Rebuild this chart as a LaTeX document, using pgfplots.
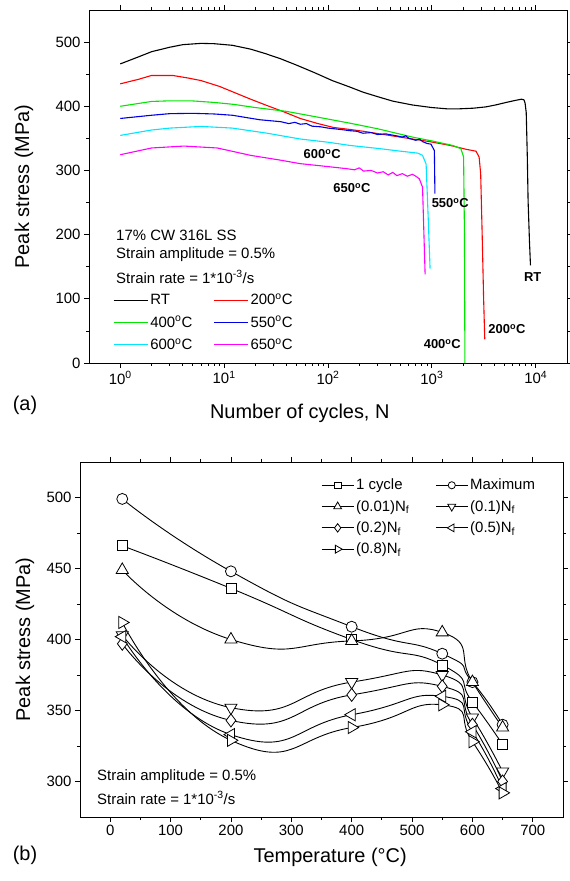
\documentclass[border=0pt]{standalone}
\usepackage{pgfplots}
\pgfplotsset{compat=1.18}
\usepackage{fontspec}
\setmainfont{Liberation Sans}

\definecolor{cRT}{RGB}{0,0,0}
\definecolor{c200}{RGB}{255,0,0}
\definecolor{c400}{RGB}{0,230,0}
\definecolor{c550}{RGB}{0,0,230}
\definecolor{c600}{RGB}{0,230,255}
\definecolor{c650}{RGB}{255,0,255}

\pgfplotsset{
  common/.style={
    scale only axis, anchor=south west,
    tick align=outside,
    major tick length=5bp, minor tick length=3bp,
    axis line style={line width=0.9bp},
    every tick/.style={black, line width=0.8bp},
    tick label style={font=\fontsize{15}{18}\selectfont},
    label style={font=\fontsize{20}{24}\selectfont},
    /pgf/number format/assume math mode=true,
  }
}

\begin{document}
\begin{tikzpicture}
\path[use as bounding box] (0,0) rectangle (570bp,881bp);

% ---------------- panel (a) ----------------
\begin{axis}[common,
  at={(89bp,518bp)}, width=478bp, height=353bp,
  xmode=log, xmin=0.5, xmax=20000, ymin=0, ymax=550,
  xtick={1,10,100,1000,10000},
  xticklabels={10\textsuperscript{0},10\textsuperscript{1},10\textsuperscript{2},10\textsuperscript{3},10\textsuperscript{4}},
  ytick={0,100,200,300,400,500}, minor y tick num=1,
  xlabel={Number of cycles, N},
  ylabel={Peak stress (MPa)},
  xlabel style={at={(axis description cs:0.441,-0.142)}, anchor=center},
  ylabel style={at={(axis description cs:-0.136,0.5)}, anchor=center},
  legend columns=2,
  legend cell align=left,
  legend style={draw=none, fill=none, inner sep=0pt, row sep=6bp,
    font=\fontsize{15}{18}\selectfont,
    at={(axis description cs:0.05,0.2015)}, anchor=north west,
    /tikz/every even column/.append style={column sep=19bp}},
  legend image code/.code={\draw[#1, line width=1.2bp] (0bp,0bp) -- (34bp,0bp);},
  every axis plot/.append style={line width=1.1bp},
]
\addplot[color=cRT] coordinates {(1,466) (1.5,477) (2,485) (3,492) (4,496) (6,498) (8,497.5) (12,495) (18,489) (25,482) (35,474) (50,464) (75,452) (110,440) (162,430) (217,422) (300,415) (420,408) (650,402) (1000,398) (1400,396) (1825,396) (2500,397) (3300,399) (4100,402) (5200,406) (6300,409) (7290,411) (7700,410) (7900,405) (8100,390) (8300,320) (8440,253) (8700,190) (8900,152)};
\addlegendentry{RT}
\addplot[color=c200] coordinates {(1,435) (1.5,442) (2,448) (3.2,448) (4.5,444) (6,440) (9,431) (12.3,422) (18,411) (26,401) (38,391) (54,381) (80,373) (113,367) (160,364) (220,361) (314,357) (450,353) (650,349) (945,345) (1500,339) (2130,333) (2660,330) (2850,321) (2950,295) (3050,200) (3150,100) (3230,37)};
\addlegendentry{200\textsuperscript{o}C}
\addplot[color=c400] coordinates {(1,400) (2,407.5) (3,408.5) (4.8,408.5) (8,406) (12.3,403) (20,398) (40,392) (80,383) (162,373.7) (300,365) (650,352) (1000,346) (1585,339) (1900,334) (2020,321) (2060,200) (2080,0)};
\addlegendentry{400\textsuperscript{o}C}
\addplot[color=c550] coordinates {(1,381) (2,386) (3,388.5) (5,389) (8,388) (12,386) (22,379) (35,376) (42,373) (48,375) (54,372) (62,373) (70,369) (85,368) (100,366) (130,364) (162,362) (190,361) (217,358) (260,359) (300,356) (360,357) (455,354) (520,352) (560,354) (600,350) (700,347) (760,349) (813,345) (900,342) (980,341) (1057,331) (1070,264)};
\addlegendentry{550\textsuperscript{o}C}
\addplot[color=c600] coordinates {(1,354.6) (2,363) (3,366) (6,368.6) (12,366) (26,358) (54,349) (100,344) (162,339) (314,334) (500,330) (731,327) (813,323.5) (880,310) (920,230) (961,147)};
\addlegendentry{600\textsuperscript{o}C}
\addplot[color=c650] coordinates {(1,324.5) (2,335) (4.1,338) (8.6,335) (18,323.5) (35,316) (54,310.6) (100,306) (151,302.8) (180,301) (200,304) (220,299) (260,300) (300,296) (340,298) (380,293) (420,297) (460,292) (520,295) (580,291) (650,294) (700,291) (757,287) (813,274) (861,138)};
\addlegendentry{650\textsuperscript{o}C}

\node[font=\fontsize{15}{18}\selectfont, anchor=west, inner sep=0pt] at (axis description cs:0.0565,0.3626) {17\% CW 316L SS};
\node[font=\fontsize{15}{18}\selectfont, anchor=west, inner sep=0pt] at (axis description cs:0.0565,0.306) {Strain amplitude = 0.5\%};
\node[font=\fontsize{15}{18}\selectfont, anchor=west, inner sep=0pt] at (axis description cs:0.0565,0.2436) {Strain rate = 1*10\textsuperscript{-3}/s};

\node[font=\bfseries\fontsize{13}{15}\selectfont] at (axis cs:88,325) {600\textsuperscript{o}C};
\node[font=\bfseries\fontsize{13}{15}\selectfont] at (axis cs:170,272) {650\textsuperscript{o}C};
\node[font=\bfseries\fontsize{13}{15}\selectfont] at (axis cs:1503,249) {550\textsuperscript{o}C};
\node[font=\bfseries\fontsize{13}{15}\selectfont] at (axis cs:1260,29.5) {400\textsuperscript{o}C};
\node[font=\bfseries\fontsize{13}{15}\selectfont] at (axis cs:5275,53) {200\textsuperscript{o}C};
\node[font=\bfseries\fontsize{13}{15}\selectfont] at (axis cs:9360,134) {RT};
\end{axis}

% ---------------- panel (b) ----------------
\begin{axis}[common,
  at={(80bp,64bp)}, width=483bp, height=355bp,
  xmin=-50, xmax=750, ymin=275, ymax=525,
  xtick={0,100,...,700}, minor x tick num=1,
  ytick={300,350,...,500}, minor y tick num=1,
  xlabel={Temperature (°C)},
  ylabel={Peak stress (MPa)},
  xlabel style={at={(axis description cs:0.518,-0.115)}, anchor=center},
  ylabel style={at={(axis description cs:-0.114,0.5)}, anchor=center},
  legend columns=2,
  legend cell align=left,
  legend style={draw=none, fill=none, inner sep=0pt, row sep=5bp,
    font=\fontsize{15}{18}\selectfont,
    at={(axis description cs:0.499,0.958)}, anchor=north west,
    /tikz/every even column/.append style={column sep=24bp}},
  legend image code/.code={\draw[mark repeat=2,mark phase=2,#1,every mark/.append style={scale=0.65}] plot coordinates {(0bp,0bp) (16bp,0bp) (32bp,0bp)};},
  every axis plot/.append style={black, line width=0.9bp, smooth, tension=1},
]
\addplot[mark=square*, mark size=5bp, mark options={fill=white, solid, line width=0.8bp}] coordinates {(20,466) (200,436) (400,400) (550,382) (600,356) (650,326)};
\addlegendentry{1 cycle}
\addplot[mark=*, mark size=5.5bp, mark options={fill=white, solid, line width=0.8bp}] coordinates {(20,499) (200,448) (400,409) (550,390) (600,370) (650,340)};
\addlegendentry{Maximum}
\addplot[mark=triangle*, mark size=7bp, mark options={fill=white, solid, line width=0.8bp}] coordinates {(20,449) (200,400) (400,399) (550,405) (600,370) (650,338)};
\addlegendentry{(0.01)N\textsubscript{f}}
\addplot[mark=triangle*, mark size=7bp, mark options={fill=white, solid, line width=0.8bp, rotate=180}] coordinates {(20,403) (200,352) (400,370) (550,375) (600,345) (650,307)};
\addlegendentry{(0.1)N\textsubscript{f}}
\addplot[mark=diamond*, mark size=6.5bp, mark options={fill=white, solid, line width=0.8bp}] coordinates {(20,397) (200,343) (400,361) (550,367) (600,340) (650,300)};
\addlegendentry{(0.2)N\textsubscript{f}}
\addplot[mark=triangle*, mark size=7bp, mark options={fill=white, solid, line width=0.8bp, rotate=90}] coordinates {(20,402) (200,333) (400,347) (550,360) (600,335) (650,295)};
\addlegendentry{(0.5)N\textsubscript{f}}
\addplot[mark=triangle*, mark size=7bp, mark options={fill=white, solid, line width=0.8bp, rotate=-90}] coordinates {(20,412) (200,329) (400,338) (550,354) (600,328) (650,292)};
\addlegendentry{(0.8)N\textsubscript{f}}

\node[font=\fontsize{15}{18}\selectfont, anchor=west, inner sep=0pt] at (axis description cs:0.0352,0.1127) {Strain amplitude = 0.5\%};
\node[font=\fontsize{15}{18}\selectfont, anchor=west, inner sep=0pt] at (axis description cs:0.0352,0.0535) {Strain rate = 1*10\textsuperscript{-3}/s};
\end{axis}

\node[font=\fontsize{20}{24}\selectfont] at (25bp,476bp) {(a)};
\node[font=\fontsize{20}{24}\selectfont] at (25bp,26bp) {(b)};
\end{tikzpicture}
\end{document}
